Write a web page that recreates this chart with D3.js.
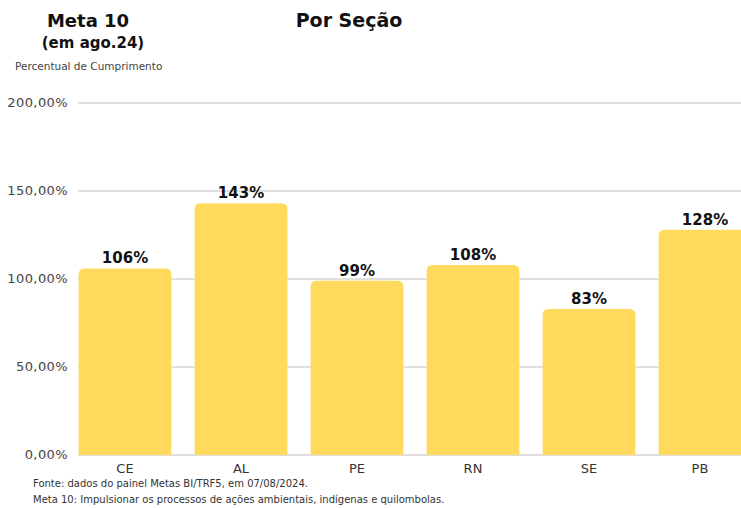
<!DOCTYPE html>
<html>
<head>
<meta charset="utf-8">
<script src="https://cdn.jsdelivr.net/npm/d3@7"></script>
<style>
  body { margin: 0; background: #fff; }
  svg { display: block; font-family: "DejaVu Sans", sans-serif; }
</style>
</head>
<body>
<div id="chart"></div>
<script>
// Data
const secoes = ["CE", "AL", "PE", "RN", "SE", "PB"]
const cumprimento = [106, 143, 99, 108, 83, 128]
const yTicks = [0, 50, 100, 150, 200]
const notas = [
  "Fonte: dados  do painel Metas BI/TRF5, em 07/08/2024.",
  "Meta 10: Impulsionar os processos de ações ambientais, indígenas e quilombolas."
]

const dims = { width: 741, height: 508 }

const svg = d3.select('#chart')
  .append('svg')
  .attr('width', dims.width)
  .attr('height', dims.height)

// Scales
const yScale = d3.scaleLinear()
  .domain([0, 200])
  .range([455, 103])

const xScale = d3.scaleBand()
  .domain(secoes)
  .range([67, 763])
  .paddingInner(0.2)
  .paddingOuter(0.1)

// grid
svg.append('g')
  .selectAll('line')
  .data(yTicks)
  .join('line')
  .attr('x1', 78)
  .attr('x2', dims.width)
  .attr('y1', d => yScale(d))
  .attr('y2', d => yScale(d))
  .attr('stroke', '#d6d6d6')
  .attr('stroke-width', 1.5)

// y labels
svg.append('g')
  .selectAll('text')
  .data(yTicks)
  .join('text')
  .attr('x', 68)
  .attr('y', d => yScale(d) + 4)
  .attr('text-anchor', 'end')
  .attr('font-size', 13)
  .attr('letter-spacing', 0.4)
  .attr('fill', '#444')
  .text(d => d3.format('.2f')(d).replace('.', ',') + '%')

// bars with rounded tops
const r = 6
svg.append('g')
  .selectAll('path')
  .data(cumprimento)
  .join('path')
  .attr('fill', '#FFDA5C')
  .attr('d', (d, i) => {
    const x = xScale(secoes[i]), w = xScale.bandwidth()
    const y = yScale(d), b = yScale(0)
    return `M${x},${b}V${y + r}Q${x},${y} ${x + r},${y}H${x + w - r}Q${x + w},${y} ${x + w},${y + r}V${b}Z`
  })

// value labels
svg.append('g')
  .selectAll('text')
  .data(cumprimento)
  .join('text')
  .attr('x', (d, i) => xScale(secoes[i]) + xScale.bandwidth() / 2)
  .attr('y', d => yScale(d) - 5)
  .attr('text-anchor', 'middle')
  .attr('font-size', 15)
  .attr('font-weight', 'bold')
  .attr('fill', '#111')
  .text(d => d + '%')

// x labels
svg.append('g')
  .selectAll('text')
  .data(secoes)
  .join('text')
  .attr('x', d => Math.min(xScale(d) + xScale.bandwidth() / 2, 700))
  .attr('y', 473)
  .attr('text-anchor', 'middle')
  .attr('font-size', 13)
  .attr('fill', '#333')
  .text(d => d)

// titles
svg.append('text').attr('x', 88).attr('y', 27).attr('text-anchor', 'middle')
  .attr('font-size', 18).attr('font-weight', 'bold').attr('fill', '#111').text('Meta 10')
svg.append('text').attr('x', 93).attr('y', 48).attr('text-anchor', 'middle')
  .attr('font-size', 15).attr('font-weight', 'bold').attr('fill', '#111').text('(em ago.24)')
svg.append('text').attr('x', 15).attr('y', 70)
  .attr('font-size', 10.5).attr('fill', '#444').text('Percentual de Cumprimento')
svg.append('text').attr('x', 349).attr('y', 27).attr('text-anchor', 'middle')
  .attr('font-size', 19).attr('font-weight', 'bold').attr('fill', '#111').text('Por Seção')

// notes
svg.append('g')
  .selectAll('text')
  .data(notas)
  .join('text')
  .attr('x', 33)
  .attr('y', (d, i) => 487 + i * 16)
  .attr('font-size', 10)
  .attr('fill', '#333')
  .text(d => d)
</script>
</body>
</html>
